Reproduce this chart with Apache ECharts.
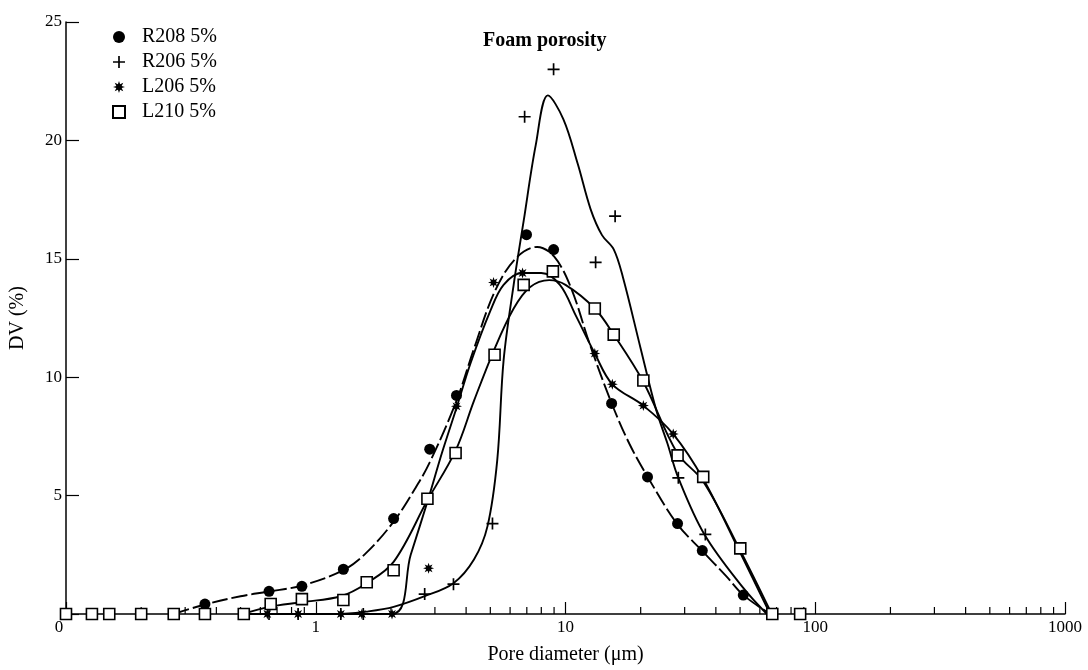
<!DOCTYPE html>
<html>
<head>
<meta charset="utf-8">
<script src="https://cdn.jsdelivr.net/npm/echarts@6/dist/echarts.min.js"></script>
<style>
  html, body { margin: 0; padding: 0; background: #fff; }
  #chart { width: 1088px; height: 670px; }
</style>
</head>
<body>
<div id="chart"></div>
<script>
// measured points [pore diameter (µm), DV (%)]
const r208Points = [[0.36, 0.42], [0.65, 0.96], [0.88, 1.17], [1.29, 1.89], [2.05, 4.03], [2.86, 6.96], [3.66, 9.23],
  [6.98, 16.02], [8.96, 15.39], [15.3, 8.89], [21.3, 5.79], [28.1, 3.82], [35.3, 2.68], [51.5, 0.8]]
const r206Points = [[0.65, 0], [0.85, 0], [1.26, 0], [1.55, 0], [2.73, 0.84], [3.56, 1.26], [5.1, 3.82], [6.86, 21.0],
  [8.96, 23.0], [13.2, 14.85], [15.8, 16.8], [28.3, 5.75], [36.3, 3.36]]
const l206Points = [[0.64, 0], [0.85, 0], [1.26, 0], [1.53, 0], [2.02, 0], [2.83, 1.93], [3.66, 8.77], [5.15, 14.0],
  [6.73, 14.4], [13.1, 11.0], [15.4, 9.7], [20.5, 8.8], [27, 7.6]]
const l210Points = [[0.1, 0], [0.127, 0], [0.149, 0], [0.2, 0], [0.27, 0], [0.36, 0], [0.515, 0], [0.66, 0.42],
  [0.88, 0.63], [1.29, 0.59], [1.6, 1.34], [2.05, 1.85], [2.8, 4.87], [3.63, 6.8], [5.2, 10.95], [6.8, 13.9],
  [8.9, 14.47], [13.1, 12.9], [15.6, 11.8], [20.5, 9.86], [28.1, 6.7], [35.6, 5.79], [50.1, 2.77], [67.3, 0], [87, 0]]

// fitted curves
const r208Curve = [[0.27, 0], [0.36, 0.4], [0.5, 0.75], [0.65, 0.95], [0.88, 1.2], [1.29, 1.85], [1.6, 2.6], [2.05, 3.9],
  [2.5, 5.3], [2.86, 6.4], [3.66, 9.0], [4.3, 11.2], [5.2, 13.6], [6.3, 15.0], [7.7, 15.5], [9, 15.1], [10.5, 13.8],
  [12.5, 11.4], [15.3, 8.9], [18, 7.2], [21.3, 5.8], [28, 3.8], [35, 2.7], [44, 1.6], [51.5, 0.8], [66, 0]]
const r206Curve = [[1.26, 0], [1.6, 0.1], [2.05, 0.3], [2.73, 0.75], [3.56, 1.3], [4.3, 2.3], [4.87, 3.7], [5.33, 6.5],
  [5.65, 10.7], [6.2, 13.9], [6.8, 16.6], [7.6, 19.8], [8.5, 21.9], [9.8, 20.9], [11.2, 19.0], [12.6, 17.1], [14, 16.0],
  [15.6, 15.4], [17, 14.2], [19.9, 11.3], [23.1, 8.6], [25.6, 7.2], [28.3, 5.75], [36, 3.36], [51.5, 1.1], [64, 0]]
const l206Curve = [[0.5, 0], [2.02, 0], [2.4, 2.5], [2.83, 4.9], [3.2, 6.8], [3.66, 8.7], [4.17, 10.6], [5.0, 12.8],
  [5.65, 13.9], [6.7, 14.4], [8.0, 14.4], [9.5, 13.9], [11, 12.6], [13.1, 11.0], [15.4, 9.7], [20.5, 8.8], [27, 7.6],
  [35.6, 5.7], [50, 2.6], [66, 0]]
const l210Curve = [[0.51, 0], [0.65, 0.3], [0.88, 0.5], [1.26, 0.75], [1.6, 1.3], [2.05, 2.2], [2.8, 4.8], [3.63, 6.9],
  [4.3, 9.0], [5.2, 11.2], [6.2, 12.9], [7.2, 13.8], [8.6, 14.1], [10, 13.9], [13.1, 12.9], [15.6, 11.8], [20.5, 9.8],
  [28, 6.8], [35.6, 5.6], [50, 2.7], [67, 0]]

const seriesNames = ['R208 5%', 'R206 5%', 'L206 5%', 'L210 5%']
const minorTicks = [0.2, 0.3, 0.4, 0.5, 0.6, 0.7, 0.8, 0.9, 2, 3, 4, 5, 6, 7, 8, 9,
  20, 30, 40, 50, 60, 70, 80, 90, 200, 300, 400, 500, 600, 700, 800, 900]

const FONT = '"Liberation Serif", "DejaVu Serif", serif'

// 8-point star for the asterisk marker
let star = ''
for (let i = 0; i < 16; i++) {
  const a = i * Math.PI / 8
  const r = i % 2 ? 2.4 : 5
  star += (i ? 'L' : 'M') + (5 + r * Math.sin(a)).toFixed(2) + ',' + (5 - r * Math.cos(a)).toFixed(2)
}
const asteriskSymbol = 'path://' + star + 'Z'
const plusSymbol = 'path://M4.3,0H5.7V4.3H10V5.7H5.7V10H4.3V5.7H0V4.3H4.3Z'

function curve (data, dashed) {
  return {
    type: 'line',
    data: data,
    smooth: 0.35,
    showSymbol: false,
    silent: true,
    z: 2,
    lineStyle: { color: '#000', width: 1.9, type: dashed ? [16, 4] : 'solid' }
  }
}

const chart = echarts.init(document.getElementById('chart'))
chart.setOption({
  animation: false,
  backgroundColor: '#fff',
  title: {
    text: 'Foam porosity',
    left: 478,
    top: 26,
    textStyle: { fontFamily: FONT, fontSize: 20, fontWeight: 'bold', color: '#000' }
  },
  legend: {
    data: seriesNames,
    orient: 'vertical',
    left: 107,
    top: 22,
    itemWidth: 12,
    itemHeight: 12,
    itemGap: 5,
    textStyle: { fontFamily: FONT, fontSize: 20, lineHeight: 20, color: '#000', padding: [0, 0, 0, 12] }
  },
  grid: { left: 65, right: 23, top: 22, bottom: 52 },
  xAxis: {
    type: 'log',
    logBase: 10,
    min: 0.1,
    max: 1000,
    name: 'Pore diameter (\u03bcm)',
    nameLocation: 'middle',
    nameGap: 31,
    nameTextStyle: { fontFamily: FONT, fontSize: 20, color: '#000' },
    axisLine: { lineStyle: { color: '#000', width: 1.5 } },
    axisTick: { inside: true, length: 12, lineStyle: { color: '#000', width: 1.2 } },
    axisLabel: {
      fontFamily: FONT, fontSize: 17, color: '#000', margin: 5,
      formatter: v => v < 1 ? '{z|0}' : String(Math.round(v)),
      rich: { z: { fontFamily: FONT, fontSize: 17, color: '#000', padding: [0, 14, 0, 0] } }
    },
    splitLine: { show: false }
  },
  yAxis: {
    type: 'value',
    min: 0,
    max: 25,
    interval: 5,
    name: 'DV (%)',
    nameLocation: 'middle',
    nameGap: 38,
    nameTextStyle: { fontFamily: FONT, fontSize: 20, color: '#000' },
    axisLine: { show: true, lineStyle: { color: '#000', width: 1.5 } },
    axisTick: { show: true, inside: true, length: 13, lineStyle: { color: '#000', width: 1.2 } },
    axisLabel: {
      fontFamily: FONT, fontSize: 17, color: '#000', margin: 4,
      formatter: v => v === 0 ? '' : v
    },
    splitLine: { show: false }
  },
  series: [
    {
      type: 'custom',
      silent: true,
      z: 1,
      data: minorTicks.map(v => [v, 0]),
      renderItem: function (params, api) {
        const p = api.coord([api.value(0), 0])
        return {
          type: 'line',
          shape: { x1: p[0], y1: p[1], x2: p[0], y2: p[1] - 7 },
          style: { stroke: '#000', lineWidth: 1.2 }
        }
      }
    },
    curve(r208Curve, true),
    curve(r206Curve, false),
    curve(l206Curve, false),
    curve(l210Curve, false),
    {
      name: seriesNames[0], type: 'scatter', data: r208Points, z: 3,
      symbol: 'circle', symbolSize: 11, itemStyle: { color: '#000', opacity: 1 }
    },
    {
      name: seriesNames[1], type: 'scatter', data: r206Points, z: 3,
      symbol: plusSymbol, symbolSize: 12, itemStyle: { color: '#000', opacity: 1 }
    },
    {
      name: seriesNames[2], type: 'scatter', data: l206Points, z: 3,
      symbol: asteriskSymbol, symbolSize: 11, itemStyle: { color: '#000', opacity: 1 }
    },
    {
      name: seriesNames[3], type: 'scatter', data: l210Points, z: 4,
      symbol: 'rect', symbolSize: 11, itemStyle: { color: '#fff', borderColor: '#000', borderWidth: 1.6, opacity: 1 }
    }
  ]
})
</script>
</body>
</html>
